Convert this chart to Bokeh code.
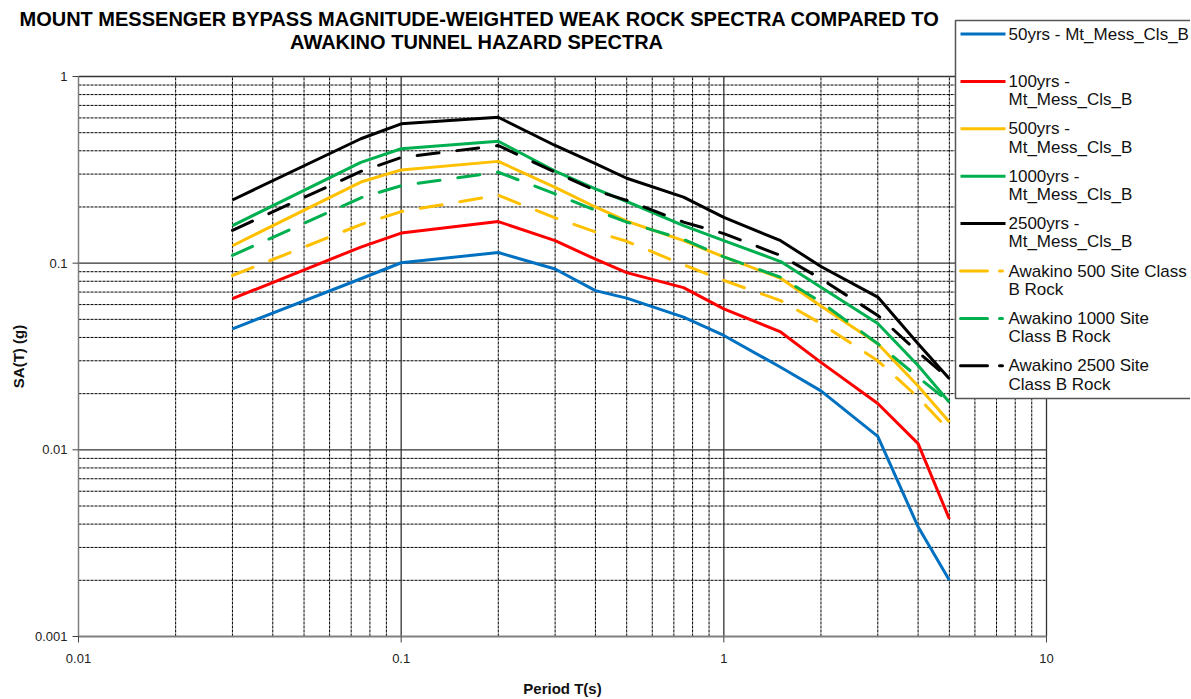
from bokeh.plotting import figure
from bokeh.models import Range1d
from bokeh.core.properties import value
from bokeh.embed import file_html
from bokeh.resources import INLINE
import math

# ---------------- data ----------------
periods = [0.03, 0.075, 0.1, 0.2, 0.3, 0.4, 0.5, 0.75, 1.0, 1.5, 2.0, 3.0, 4.0, 5.0]

mt_50 = [0.0445, 0.0825, 0.1005, 0.114, 0.093, 0.0713, 0.065, 0.0514, 0.041, 0.0277, 0.0207, 0.0118, 0.00387, 0.0020]
mt_100 = [0.0645, 0.122, 0.145, 0.167, 0.132, 0.105, 0.089, 0.074, 0.0569, 0.0428, 0.0294, 0.0177, 0.0108, 0.00426]
mt_500 = [0.124, 0.272, 0.316, 0.351, 0.255, 0.200, 0.168, 0.132, 0.108, 0.083, 0.0589, 0.037, 0.022, 0.0141]
mt_1000 = [0.159, 0.347, 0.41, 0.45, 0.311, 0.25, 0.214, 0.159, 0.132, 0.102, 0.0742, 0.0475, 0.0283, 0.018]
mt_2500 = [0.218, 0.464, 0.558, 0.605, 0.427, 0.341, 0.285, 0.226, 0.176, 0.132, 0.096, 0.0658, 0.037, 0.024]
awk_500 = [0.0859, 0.161, 0.189, 0.231, 0.175, 0.147, 0.131, 0.098, 0.0808, 0.063, 0.0475, 0.030, 0.0191, 0.0127]
awk_1000 = [0.110, 0.224, 0.26, 0.307, 0.235, 0.192, 0.166, 0.134, 0.108, 0.084, 0.0619, 0.037, 0.0245, 0.018]
awk_2500 = [0.150, 0.310, 0.368, 0.427, 0.307, 0.245, 0.217, 0.166, 0.144, 0.110, 0.0825, 0.0525, 0.0334, 0.024]

series_labels = [
    ["50yrs - Mt_Mess_Cls_B"],
    ["100yrs -", "Mt_Mess_Cls_B"],
    ["500yrs -", "Mt_Mess_Cls_B"],
    ["1000yrs -", "Mt_Mess_Cls_B"],
    ["2500yrs -", "Mt_Mess_Cls_B"],
    ["Awakino 500 Site Class", "B Rock"],
    ["Awakino 1000 Site", "Class B Rock"],
    ["Awakino 2500 Site", "Class B Rock"],
]
series_values = [mt_50, mt_100, mt_500, mt_1000, mt_2500, awk_500, awk_1000, awk_2500]
series_colors = ["#0070C0", "#FF0000", "#FFC000", "#00B050", "#000000", "#FFC000", "#00B050", "#000000"]
series_dashed = [False, False, False, False, False, True, True, True]

title_lines = ["MOUNT MESSENGER BYPASS MAGNITUDE-WEIGHTED WEAK ROCK SPECTRA COMPARED TO",
               "AWAKINO  TUNNEL HAZARD SPECTRA"]
x_title = "Period T(s)"
y_title = "SA(T) (g)"
x_major = [0.01, 0.1, 1, 10]
y_major = [0.001, 0.01, 0.1, 1]
x_tick_labels = ["0.01", "0.1", "1", "10"]
y_tick_labels = ["0.001", "0.01", "0.1", "1"]
x_minor = [m * 10.0 ** e for e in range(-2, 1) for m in range(2, 10)]
y_minor = [m * 10.0 ** e for e in range(-3, 0) for m in range(2, 10)]
X_MIN, X_MAX = 0.01, 10
Y_MIN, Y_MAX = 0.001, 1

FONT = "Liberation Sans"

# ---------------- layout (page pixels) ----------------
W, H = 1190, 698
OFF = 0
PX_LEFT, PX_RIGHT = 78, 1046     # page px of X_MIN, X_MAX
PX_TOP, PX_BOTTOM = 76, 636      # page px of Y_MAX, Y_MIN
X_PPD = (PX_RIGHT - PX_LEFT) / (math.log10(X_MAX) - math.log10(X_MIN))
Y_PPD = (PX_BOTTOM - PX_TOP) / (math.log10(Y_MAX) - math.log10(Y_MIN))


def dx(px):
    return 10 ** (math.log10(X_MIN) + (px - PX_LEFT) / X_PPD)


def dy(py):
    return 10 ** (math.log10(Y_MAX) - (py - PX_TOP) / Y_PPD)


p = figure(width=W, height=H, x_axis_type="log", y_axis_type="log",
           x_axis_location=None, y_axis_location=None, title_location=None,
           x_range=Range1d(dx(OFF), dx(OFF + W)), y_range=Range1d(dy(OFF + H), dy(OFF)),
           output_backend="svg", toolbar_location=None,
           min_border=0, min_border_left=0, min_border_right=0,
           min_border_top=0, min_border_bottom=0)
p.outline_line_color = None
p.xgrid.visible = False
p.ygrid.visible = False
p.background_fill_color = "white"
p.border_fill_color = "white"

# ---------------- grid ----------------
p.multi_line(xs=[[t, t] for t in x_minor], ys=[[Y_MIN, Y_MAX]] * len(x_minor),
             line_color="black", line_width=1, line_dash="3 1")
p.multi_line(xs=[[X_MIN, X_MAX]] * len(y_minor), ys=[[t, t] for t in y_minor],
             line_color="black", line_width=1, line_dash="3 1")
p.multi_line(xs=[[t, t] for t in x_major[1:]], ys=[[Y_MIN, Y_MAX]] * (len(x_major) - 1),
             line_color="#333333", line_width=1.3)
p.multi_line(xs=[[X_MIN, X_MAX]] * (len(y_major) - 1), ys=[[t, t] for t in y_major[1:]],
             line_color="#333333", line_width=1.3)

# ---------------- axes ----------------
p.line([X_MIN, X_MIN], [Y_MIN, Y_MAX], line_color="#808080", line_width=1.5)
p.line([X_MIN, X_MAX], [Y_MIN, Y_MIN], line_color="#808080", line_width=2)
p.multi_line(xs=[[t, t] for t in x_major], ys=[[Y_MIN, dy(PX_BOTTOM + 6)]] * len(x_major),
             line_color="#404040", line_width=1)
p.multi_line(xs=[[dx(PX_LEFT - 6), X_MIN]] * len(y_major), ys=[[t, t] for t in y_major],
             line_color="#404040", line_width=1)

p.text(x=x_major, y=[dy(658)] * len(x_major), text=x_tick_labels,
       text_font=value(FONT), text_font_size=value("13px"), text_color="#222222",
       text_align="center", text_baseline="middle")
p.text(x=[dx(67)] * len(y_major), y=y_major, text=y_tick_labels,
       text_font=value(FONT), text_font_size=value("13px"), text_color="#222222",
       text_align="right", text_baseline="middle")
p.text(x=[dx((PX_LEFT + PX_RIGHT) / 2)], y=[dy(688)], text=[x_title],
       text_font=value(FONT), text_font_size=value("15px"), text_font_style="bold",
       text_color="#111111", text_align="center", text_baseline="middle")
p.text(x=[dx(18)], y=[dy((PX_TOP + PX_BOTTOM) / 2)], text=[y_title], angle=math.pi / 2,
       text_font=value(FONT), text_font_size=value("15px"), text_font_style="bold",
       text_color="#111111", text_align="center", text_baseline="middle")

# ---------------- title ----------------
p.text(x=[dx(479)] * 2, y=[dy(18), dy(41)], text=title_lines,
       text_font=value(FONT), text_font_size=value("20px"), text_font_style="bold",
       text_color="black", text_align="center", text_baseline="middle")

# ---------------- series ----------------
for vals, col, dashed in zip(series_values, series_colors, series_dashed):
    p.line(periods, vals, line_color=col, line_width=3,
           line_dash="22 18" if dashed else "solid",
           line_cap="round" if dashed else "butt", line_join="round")

# ---------------- legend (drawn) ----------------
LEG_L, LEG_T, LEG_B = 955, 20, 398
p.quad(left=[dx(LEG_L)], right=[dx(W + 20)], top=[dy(LEG_T)], bottom=[dy(LEG_B)],
       fill_color="white", line_color="#555555", line_width=1.5)
ITEM_Y0, ITEM_DY, LINE_DY = 33.5, 47.4, 18.2
for i, (labels, col, dashed) in enumerate(zip(series_labels, series_colors, series_dashed)):
    yy = ITEM_Y0 + i * ITEM_DY
    if dashed:
        p.line([dx(960), dx(1002)], [dy(yy)] * 2, line_color=col, line_width=3,
               line_dash="27 12", line_cap="round")
    else:
        p.line([dx(960), dx(1005)], [dy(yy)] * 2, line_color=col, line_width=3)
    p.text(x=[dx(1008)] * len(labels), y=[dy(yy + k * LINE_DY) for k in range(len(labels))],
           text=labels, text_font=value(FONT), text_font_size=value("17px"),
           text_color="#111111", text_align="left", text_baseline="middle")

open("out.html", "w").write(file_html(p, INLINE))
